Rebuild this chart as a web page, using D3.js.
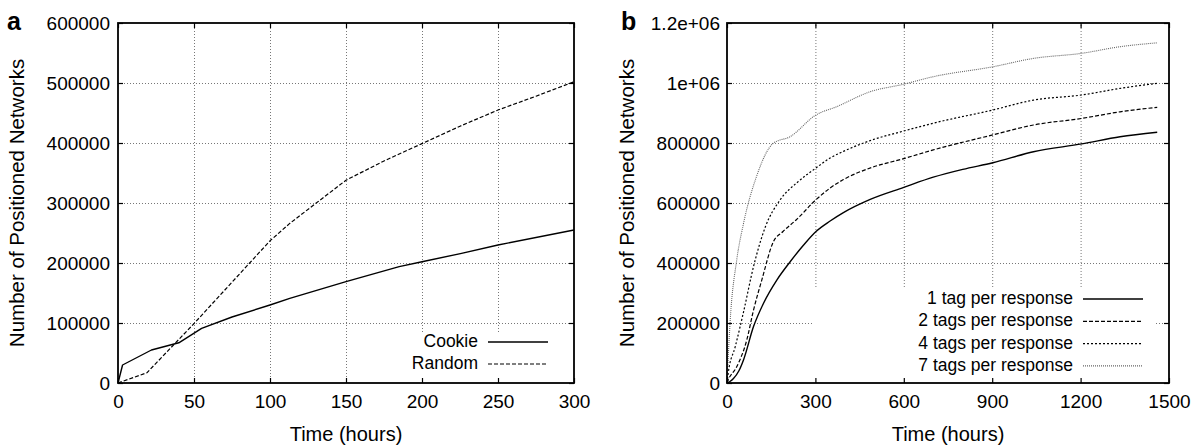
<!DOCTYPE html>
<html><head><meta charset="utf-8">
<script src="https://cdn.jsdelivr.net/npm/d3@7"></script>
<style>
html,body{margin:0;padding:0;background:#fff;}
svg{display:block;font-family:"Liberation Sans",Arial,Helvetica,sans-serif;}
</style></head>
<body><svg id="c" width="1201" height="447"></svg>
<script>
// ---- Panel a data ----
const cookieT = [0, 3, 22, 40, 55, 75, 100, 113, 150, 185, 200, 226, 250, 300];
const cookieV = [0, 30000, 55000, 67000, 91000, 110000, 130000, 141000, 169000, 194000, 202000, 216000, 230000, 255000];
const randomT = [0, 19, 50, 100, 113, 150, 175, 200, 225, 250, 275, 300];
const randomV = [0, 17000, 99000, 237000, 266000, 338000, 370000, 399000, 428000, 455000, 478000, 502000];
const aXTicks = [0, 50, 100, 150, 200, 250, 300];
const aYTicks = [0, 100000, 200000, 300000, 400000, 500000, 600000];
const aYLabels = ["0", "100000", "200000", "300000", "400000", "500000", "600000"];
const aNames = ["Cookie", "Random"];

// ---- Panel b data ----
const tag1T = [0, 10, 22, 40, 56, 90, 124, 169, 215, 260, 302, 350, 395, 486, 600, 700, 800, 902, 1040, 1204, 1334, 1460];
const tag1V = [0, 5000, 15000, 40000, 77000, 188000, 266000, 343000, 405000, 460000, 505000, 540000, 568000, 612000, 652000, 686000, 712000, 734000, 771000, 797000, 821000, 836000];
const tag2T = [0, 4, 33, 67, 90, 118, 157, 190, 236, 301, 350, 395, 490, 600, 700, 902, 1040, 1204, 1334, 1460];
const tag2V = [0, 10000, 54000, 143000, 243000, 343000, 470000, 505000, 545000, 610000, 650000, 678000, 718000, 748000, 777000, 827000, 860000, 882000, 904000, 919000];
const tag4T = [0, 4, 28, 55, 90, 130, 180, 240, 301, 350, 395, 486, 600, 700, 902, 1040, 1204, 1334, 1460];
const tag4V = [0, 32000, 121000, 232000, 388000, 520000, 610000, 670000, 716000, 750000, 772000, 808000, 840000, 866000, 910000, 943000, 960000, 982000, 999000];
const tag7T = [0, 1, 11, 33, 55, 100, 157, 214, 301, 372, 486, 600, 700, 902, 1040, 1204, 1334, 1460];
const tag7V = [0, 22000, 210000, 410000, 527000, 688000, 799000, 821000, 893000, 921000, 971000, 996000, 1021000, 1054000, 1082000, 1099000, 1121000, 1134000];
const bXTicks = [0, 300, 600, 900, 1200, 1500];
const bYTicks = [0, 200000, 400000, 600000, 800000, 1000000, 1200000];
const bYLabels = ["0", "200000", "400000", "600000", "800000", "1e+06", "1.2e+06"];
const bNames = ["1 tag per response", "2 tags per response", "4 tags per response", "7 tags per response"];

const svg = d3.select("#c");
const FS = 19;

function panel(o){
  const g = svg.append("g");
  const x = d3.scaleLinear().domain(o.xd).range([o.x0, o.x1]);
  const y = d3.scaleLinear().domain(o.yd).range([o.y0, o.y1]);
  const W = o.x1 - o.x0, H = o.y0 - o.y1;
  // grid
  const grid = g.append("g");
  grid.append("g").attr("transform", `translate(0,${o.y0})`)
    .call(d3.axisBottom(x).tickValues(o.xt.filter(v => v !== o.xd[0] && v !== o.xd[1])).tickSize(-H).tickFormat(""))
    .call(s => s.select(".domain").remove());
  grid.append("g").attr("transform", `translate(${o.x0},0)`)
    .call(d3.axisLeft(y).tickValues(o.yt.filter(v => v !== o.yd[0] && v !== o.yd[1])).tickSize(-W).tickFormat(""))
    .call(s => s.select(".domain").remove());
  grid.selectAll("line").attr("stroke", "#777").attr("stroke-width", 1).attr("stroke-dasharray", "1,2");
  // legend blank box
  g.append("rect").attr("x", o.lg.x).attr("y", o.lg.y).attr("width", o.lg.w).attr("height", o.lg.h).attr("fill", "#fff");
  // series
  const line = d3.line().curve(o.curve).x(d => x(d[0])).y(d => y(d[1]));
  o.series.forEach(s => {
    g.append("path").datum(s.t.map((t, i) => [t, s.v[i]]))
      .attr("d", line).attr("fill", "none").attr("stroke", s.c).attr("stroke-width", s.w)
      .attr("stroke-dasharray", s.dash).attr("stroke-linejoin", "round");
  });
  // legend
  o.series.forEach((s, i) => {
    const ly = o.leg.y + i * o.leg.dy;
    g.append("text").attr("x", o.leg.tx).attr("y", ly).attr("dy", "0.35em")
      .attr("text-anchor", "end").attr("font-size", o.leg.fs).text(s.name);
    g.append("line").attr("x1", o.leg.l0).attr("x2", o.leg.l1).attr("y1", ly + 1).attr("y2", ly + 1)
      .attr("stroke", s.c).attr("stroke-width", s.w).attr("stroke-dasharray", s.dash);
  });
  // axes with inward ticks
  const ax = g.append("g");
  ax.append("g").attr("transform", `translate(0,${o.y0})`)
    .call(d3.axisBottom(x).tickValues(o.xt).tickSizeInner(-5).tickSizeOuter(0).tickPadding(12).tickFormat(d3.format("d")));
  ax.append("g").attr("transform", `translate(0,${o.y1})`)
    .call(d3.axisTop(x).tickValues(o.xt).tickSizeInner(-5).tickSizeOuter(0).tickFormat(""));
  ax.append("g").attr("transform", `translate(${o.x0},0)`)
    .call(d3.axisLeft(y).tickValues(o.yt).tickSizeInner(-5).tickSizeOuter(0).tickPadding(o.ypad).tickFormat((d, i) => o.yl[i]));
  ax.append("g").attr("transform", `translate(${o.x1},0)`)
    .call(d3.axisRight(y).tickValues(o.yt).tickSizeInner(-5).tickSizeOuter(0).tickFormat(""));
  ax.selectAll(".domain").remove();
  ax.selectAll("line").attr("stroke", "#000").attr("stroke-width", 1.2);
  ax.selectAll("text").attr("font-size", FS).attr("font-family", null).attr("fill", "#000");
  g.append("rect").attr("x", o.x0).attr("y", o.y1).attr("width", W).attr("height", H)
    .attr("fill", "none").attr("stroke", "#000").attr("stroke-width", 1.8);
  // titles
  g.append("text").attr("x", (o.x0 + o.x1) / 2).attr("y", 441).attr("text-anchor", "middle")
    .attr("font-size", 20).text("Time (hours)");
  g.append("text").attr("transform", `translate(${o.yx},${(o.y0 + o.y1) / 2}) rotate(-90)`)
    .attr("text-anchor", "middle").attr("dy", "0.35em").attr("font-size", 20.5).text("Number of Positioned Networks");
  g.append("text").attr("x", o.lx).attr("y", 30).attr("font-size", 25).attr("font-weight", "bold").text(o.letter);
}

panel({
  letter: "a", lx: 7, yx: 17, x0: 118, x1: 574, y0: 383, y1: 23, curve: d3.curveLinear,
  xd: [0, 300], yd: [0, 600000], xt: aXTicks, yt: aYTicks, yl: aYLabels, ypad: 8,
  lg: {x: 396, y: 333, w: 177, h: 49},
  leg: {y: 341, dy: 22, tx: 478, l0: 488, l1: 548, fs: 17.5},
  series: [
    {name: aNames[0], t: cookieT, v: cookieV, c: "#000", w: 1.4, dash: null},
    {name: aNames[1], t: randomT, v: randomV, c: "#000", w: 1.2, dash: "4,2"}
  ]
});

panel({
  letter: "b", lx: 621, yx: 627, x0: 727, x1: 1169, y0: 383, y1: 23, curve: d3.curveMonotoneX,
  xd: [0, 1500], yd: [0, 1200000], xt: bXTicks, yt: bYTicks, yl: bYLabels, ypad: 7,
  lg: {x: 812, y: 287, w: 344, h: 95},
  leg: {y: 298, dy: 22.3, tx: 1073, l0: 1083, l1: 1143, fs: 17.5},
  series: [
    {name: bNames[0], t: tag1T, v: tag1V, c: "#000", w: 1.4, dash: null},
    {name: bNames[1], t: tag2T, v: tag2V, c: "#000", w: 1.2, dash: "4,2"},
    {name: bNames[2], t: tag4T, v: tag4V, c: "#000", w: 1.2, dash: "2,2"},
    {name: bNames[3], t: tag7T, v: tag7V, c: "#666", w: 1.1, dash: "1,1"}
  ]
});
</script></body></html>
